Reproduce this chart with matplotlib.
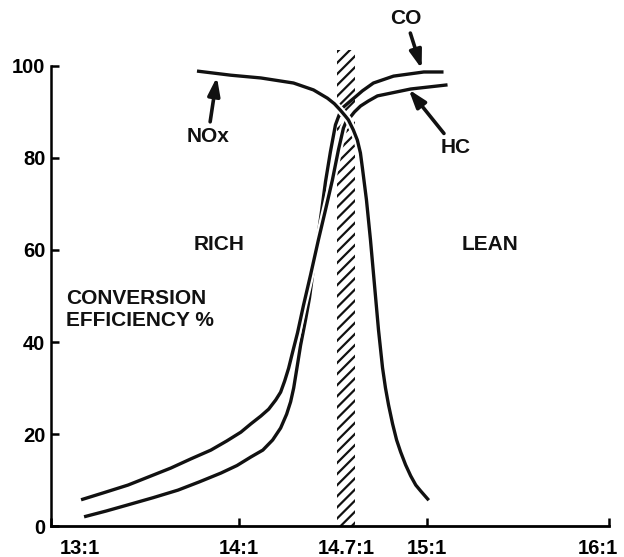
import numpy as np
import matplotlib
matplotlib.use("Agg")
import matplotlib.pyplot as plt
import matplotlib.patheffects as pe
from matplotlib.transforms import ScaledTranslation

plt.rcParams["font.family"] = ["Liberation Sans", "DejaVu Sans"]
plt.rcParams["hatch.linewidth"] = 1.6

# ---- printed air/fuel scale (the original drawing is not linear) ----
afr_ticks = [13.0, 14.0, 14.7, 15.0, 16.0]
afr_tick_labels = ["13:1", "14:1", "14.7:1", "15:1", "16:1"]
printed_positions = [0.0, 1.0, 1.572, 2.0, 2.97]

y_ticks = [0, 20, 40, 60, 80, 100]

# ---- curves (air/fuel ratio, conversion efficiency %) ----
nox_afr = [13.777, 13.957, 14.143, 14.356, 14.486, 14.577, 14.622, 14.661, 14.694,
           14.7075, 14.726, 14.741, 14.7525, 14.760, 14.775, 14.790, 14.805, 14.820,
           14.835, 14.846, 14.8575, 14.8725, 14.8875, 14.9025, 14.921, 14.940,
           14.959, 14.9775, 15.011]
nox_eff = [98.9, 98.0, 97.4, 96.3, 94.8, 93.0, 91.8, 90.4, 89.1,
           88.3, 86.1, 83.9, 81.1, 77.8, 70.9, 62.2, 52.4, 42.6,
           34.4, 30.0, 26.3, 22.2, 18.7, 16.1, 13.3, 10.9,
           8.9, 7.6, 5.6]

hc_afr = [13.160, 13.282, 13.410, 13.521, 13.638, 13.745, 13.851, 13.936, 14.013,
          14.078, 14.143, 14.194, 14.240, 14.272, 14.298, 14.324, 14.350, 14.382,
          14.421, 14.467, 14.518, 14.564, 14.609, 14.648, 14.668, 14.681, 14.700,
          14.715, 14.730, 14.753, 14.7825, 14.816, 14.940, 15.114]
hc_eff = [5.7, 7.25, 8.9, 10.7, 12.6, 14.6, 16.5, 18.5, 20.4,
          22.2, 23.9, 25.4, 27.4, 29.1, 31.5, 34.3, 37.8, 42.0,
          48.0, 54.6, 62.2, 68.7, 75.2, 81.7, 84.6, 86.5, 88.0,
          88.9, 90.0, 91.3, 92.4, 93.5, 95.0, 95.9]

co_afr = [13.176, 13.293, 13.410, 13.543, 13.676, 13.790, 13.904, 13.990, 14.078,
          14.156, 14.220, 14.272, 14.311, 14.337, 14.357, 14.376, 14.402, 14.434,
          14.460, 14.486, 14.512, 14.538, 14.564, 14.596, 14.629, 14.668, 14.7075,
          14.734, 14.760, 14.801, 14.876, 14.989, 15.092]
co_eff = [2.0, 3.25, 4.6, 6.15, 7.8, 9.6, 11.5, 13.15, 15.0,
          16.5, 18.7, 21.3, 24.3, 27.0, 30.0, 33.9, 39.3, 44.8,
          49.6, 56.1, 62.2, 68.3, 74.8, 81.3, 87.2, 90.7, 92.0,
          93.3, 94.6, 96.3, 97.8, 98.7, 98.7]

stoich_band = [14.642, 14.734]
stoich_band_top = 103.5


def fwd(x):
    return np.interp(x, afr_ticks, printed_positions)


def inv(u):
    return np.interp(u, printed_positions, afr_ticks)


fig = plt.figure(figsize=(6.24, 5.57), dpi=100)
ax = fig.add_axes([51 / 624, 31 / 557, (609 - 51) / 624, 515.2 / 557])
ax.set_xscale("function", functions=(fwd, inv))
ax.set_xlim(13.0, 16.0)
ax.set_ylim(0, 112)

for s in ("top", "right"):
    ax.spines[s].set_visible(False)
ax.spines["left"].set_bounds(0, 100)
ax.spines["left"].set_linewidth(1.8)
ax.spines["bottom"].set_linewidth(2.0)

ink = "#111111"

# stoichiometric window
ax.fill_between(stoich_band, 0, stoich_band_top, facecolor="white",
                edgecolor=ink, hatch="///", linewidth=0, zorder=1)

halo = [pe.Stroke(linewidth=5.5, foreground="white"), pe.Normal()]
line_kw = dict(color=ink, lw=2.4, solid_capstyle="butt", solid_joinstyle="round")
ax.plot(co_afr, co_eff, zorder=3, **line_kw)
ax.plot(hc_afr, hc_eff, zorder=4, path_effects=halo, **line_kw)
ax.plot(nox_afr, nox_eff, zorder=5, path_effects=halo, **line_kw)

# ticks
major = [t for t in afr_ticks if t != 14.7]
major_lbl = [l for t, l in zip(afr_ticks, afr_tick_labels) if t != 14.7]
ax.set_xticks(major, major_lbl)
ax.set_xticks([14.7], ["14.7:1"], minor=True)
ax.tick_params(axis="x", which="major", direction="in", length=6, width=1.8,
               pad=9, labelsize=14.5)
ax.tick_params(axis="x", which="minor", direction="in", length=0,
               pad=9, labelsize=14.5)
ax.set_yticks(y_ticks)
ax.tick_params(axis="y", direction="in", length=6, width=1.8, pad=4,
               labelsize=14.5)
for lab in ax.get_xticklabels() + ax.get_xticklabels(minor=True) + ax.get_yticklabels():
    lab.set_fontweight("bold")

xl = ax.get_xticklabels()
xl[0].set_transform(xl[0].get_transform() + ScaledTranslation(0.29, 0, fig.dpi_scale_trans))
xl[-1].set_transform(xl[-1].get_transform() + ScaledTranslation(-0.11, 0, fig.dpi_scale_trans))

txt = dict(fontsize=15, fontweight="bold", color=ink)
arrow = dict(arrowstyle="-|>,head_length=0.6,head_width=0.2", lw=2.6,
             color=ink, mutation_scale=18, shrinkA=2, shrinkB=0)

ax.annotate("CO", xy=(14.981, 99.4), xytext=(14.921, 110.4), ha="center",
            va="center", arrowprops=arrow, zorder=6, **txt)
ax.annotate("NOx", xy=(13.883, 97.6), xytext=(13.835, 84.6), ha="center",
            va="center", arrowprops=arrow, zorder=6, **txt)
ax.annotate("HC", xy=(14.9325, 94.9), xytext=(15.158, 82.2), ha="center",
            va="center", arrowprops=arrow, zorder=6, **txt)

ax.text(13.894, 61.1, "RICH", ha="center", va="center", **txt)
ax.text(15.348, 61.1, "LEAN", ha="center", va="center", **txt)
ax.text(13.080, 47.1, "CONVERSION\nEFFICIENCY %", ha="left", va="center",
        linespacing=1.2, **txt)

fig.savefig("out.png", dpi=100)
